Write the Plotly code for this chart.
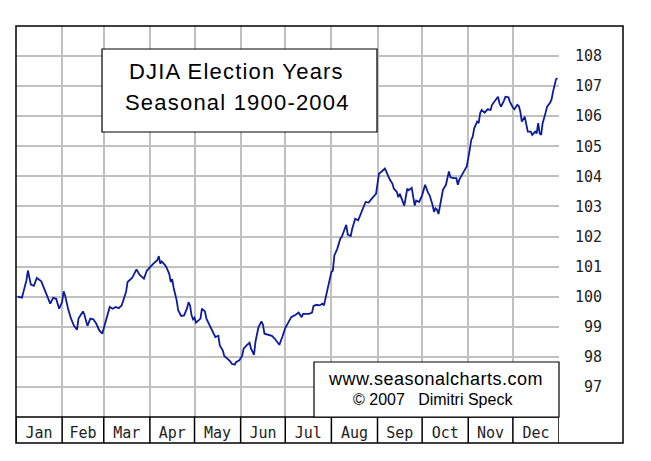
import plotly.graph_objects as go

# day of year (0 = Jan 1) and seasonal index
days = [1, 4, 5, 7, 8, 9, 10, 12, 14, 17, 19, 21, 23, 25, 27, 29, 31, 32, 33, 35,
        37, 39, 41, 42, 45, 46, 48, 50, 52, 54, 56, 58, 59, 61, 63, 65, 67, 69, 71, 74,
        75, 78, 81, 83, 86, 88, 91, 93, 95, 96, 97, 98, 100, 101, 103, 104, 105, 106, 108, 109,
        111, 113, 115, 116, 117, 118, 119, 120, 121, 124, 125, 127, 128, 130, 133, 134, 136, 137, 139, 140,
        142, 144, 145, 147, 148, 150, 152, 153, 155, 157, 158, 160, 161, 163, 165, 166, 167, 170, 172, 174,
        176, 177, 179, 181, 183, 185, 188, 190, 192, 193, 197, 199, 200, 202, 204, 206, 207, 208, 210, 211,
        212, 213, 214, 216, 217, 218, 219, 221, 222, 223, 225, 226, 228, 230, 231, 233, 235, 237, 239, 240,
        242, 243, 244, 246, 248, 249, 251, 253, 254, 256, 257, 258, 259, 261, 263, 264, 266, 267, 268, 269,
        271, 273, 274, 275, 277, 278, 280, 281, 282, 283, 284, 285, 286, 287, 289, 290, 291, 292, 294, 296,
        297, 298, 300, 301, 303, 304, 305, 306, 307, 308, 310, 311, 312, 313, 315, 317, 319, 320, 321, 323,
        324, 325, 326, 328, 329, 331, 332, 334, 335, 337, 338, 339, 340, 342, 343, 344, 346, 347, 349, 350,
        351, 352, 353, 354, 356, 357, 359, 360, 361, 362, 363, 364]
values = [100.00, 99.97, 100.16, 100.54, 100.87, 100.65, 100.40, 100.36, 100.62, 100.51,
          100.27, 99.99, 99.77, 99.96, 99.93, 99.60, 99.82, 100.18, 100.04, 99.60,
          99.27, 99.03, 98.90, 99.27, 99.51, 99.40, 99.03, 99.27, 99.25, 99.10,
          98.88, 98.77, 98.94, 99.32, 99.66, 99.60, 99.66, 99.62, 99.71, 100.16,
          100.49, 100.62, 100.91, 100.73, 100.60, 100.87, 101.04, 101.13, 101.21, 101.35,
          101.10, 101.17, 101.06, 100.99, 100.76, 100.49, 100.58, 100.29, 99.88, 99.55,
          99.36, 99.38, 99.62, 99.82, 99.71, 99.38, 99.25, 99.30, 99.14, 99.27,
          99.60, 99.51, 99.27, 99.05, 98.77, 98.66, 98.70, 98.38, 98.21, 98.03,
          97.94, 97.85, 97.77, 97.74, 97.83, 97.88, 98.03, 98.27, 98.38, 98.47,
          98.27, 98.07, 98.51, 98.99, 99.18, 99.07, 98.77, 98.74, 98.70, 98.60,
          98.44, 98.40, 98.66, 98.96, 99.14, 99.32, 99.40, 99.47, 99.32, 99.43,
          99.43, 99.47, 99.69, 99.73, 99.71, 99.77, 99.71, 99.93, 100.27, 100.54,
          100.82, 100.87, 101.37, 101.60, 101.82, 101.93, 101.99, 102.26, 102.39, 102.06,
          102.02, 102.26, 102.59, 102.54, 102.65, 102.93, 103.15, 103.13, 103.28, 103.31,
          103.42, 103.70, 104.09, 104.17, 104.26, 104.15, 103.92, 103.76, 103.59, 103.48,
          103.31, 103.42, 103.31, 103.03, 103.59, 103.54, 103.62, 103.37, 103.03, 103.20,
          103.15, 103.37, 103.59, 103.72, 103.45, 103.38, 103.05, 102.82, 102.94, 102.89,
          102.75, 103.05, 103.39, 103.55, 103.72, 103.94, 104.16, 103.97, 103.94, 103.94,
          103.72, 103.89, 104.11, 104.16, 104.33, 104.55, 104.88, 105.21, 105.32, 105.60,
          105.82, 105.77, 106.10, 106.21, 106.12, 106.23, 106.21, 106.38, 106.45, 106.60,
          106.65, 106.43, 106.32, 106.52, 106.65, 106.63, 106.48, 106.29, 106.23, 106.38,
          106.34, 106.15, 105.82, 105.98, 105.71, 105.49, 105.49, 105.38, 105.49, 105.43,
          105.77, 105.43, 105.38, 105.77, 106.12, 106.32, 106.45, 106.56, 106.82, 107.09,
          107.23, 107.26]

months = ["Jan", "Feb", "Mar", "Apr", "May", "Jun", "Jul", "Aug", "Sep", "Oct", "Nov", "Dec"]
month_starts = [0, 31, 59, 90, 120, 151, 181, 212, 243, 273, 304, 334, 365]
y_ticks = [97, 98, 99, 100, 101, 102, 103, 104, 105, 106, 107, 108]

title_lines = ["DJIA Election Years", "Seasonal 1900-2004"]
credit_lines = ["www.seasonalcharts.com", "©\u00a02007\u00a0\u00a0\u00a0Dimitri\u00a0Speck"]

month_mid = [(a + b) / 2 for a, b in zip(month_starts[:-1], month_starts[1:])]
y_text = [str(v).rjust(3).replace(" ", "\u00a0") for v in y_ticks]

mono = "DejaVu Sans Mono"
sans = "Liberation Sans, Arial"


def spaced(txt, px):
    return '<span style="letter-spacing:%spx">%s</span>' % (px, txt)


fig = go.Figure()
fig.add_trace(go.Scatter(x=days, y=values, mode="lines",
                         line=dict(color="#0c1c9c", width=1.8), showlegend=False,
                         hoverinfo="skip"))

band = -26 / 391   # month label strip below the grid
shapes = []
# outer frame
shapes.append(dict(type="rect", xref="paper", yref="paper", x0=0, x1=607 / 543, y0=band, y1=1,
                   line=dict(color="black", width=1.5)))
# strip top line and month dividers
shapes.append(dict(type="line", xref="paper", yref="paper", x0=0, x1=1, y0=0, y1=0,
                   line=dict(color="black", width=1.5)))
for m in month_starts:
    shapes.append(dict(type="line", xref="x", yref="paper", x0=m, x1=m, y0=band, y1=0,
                       line=dict(color="black", width=1.5)))
# title box and credit box
shapes.append(dict(type="rect", xref="paper", yref="paper", x0=0.1584, x1=0.6648, y0=0.7289, y1=0.9412,
                   fillcolor="white", line=dict(color="black", width=1.2), layer="above"))
shapes.append(dict(type="rect", xref="paper", yref="paper", x0=0.5488, x1=1, y0=0, y1=0.1407,
                   fillcolor="white", line=dict(color="black", width=1.2), layer="above"))

annotations = [
    dict(text=spaced(title_lines[0], 1.2), x=0.406, y=0.8824, font=dict(size=22, family=sans, color="black")),
    dict(text=spaced(title_lines[1], 1.2), x=0.408, y=0.8031, font=dict(size=22, family=sans, color="black")),
    dict(text=spaced(credit_lines[0], 0.5), x=0.7726, y=0.0972, font=dict(size=18, family=sans, color="black")),
    dict(text=credit_lines[1], x=0.7671, y=0.0448, font=dict(size=16, family=sans, color="black")),
]
for a in annotations:
    a.update(xref="paper", yref="paper", showarrow=False, xanchor="center", yanchor="middle")

# the page body adds an 8px offset, so margins are reduced by that much
fig.update_layout(
    width=643, height=453,
    margin=dict(l=8, r=92, t=18, b=44),
    paper_bgcolor="white", plot_bgcolor="white",
    shapes=shapes, annotations=annotations,
    xaxis=dict(range=[0, 365], tickvals=month_mid, ticktext=months,
               showgrid=False, zeroline=False,
               ticks="outside", ticklen=2, tickcolor="rgba(0,0,0,0)",
               tickfont=dict(family=mono, size=15, color="#222"),
               minor=dict(tickvals=month_starts, showgrid=True, gridcolor="#c0c0c0",
                          gridwidth=1.5, ticks=""),
               fixedrange=True),
    yaxis=dict(range=[96, 109], side="right", tickvals=y_ticks, ticktext=y_text,
               showgrid=True, gridcolor="#c0c0c0", gridwidth=1.5, zeroline=False,
               ticks="outside", ticklen=12, tickcolor="rgba(0,0,0,0)",
               tickfont=dict(family=mono, size=15, color="#222")),
)

fig.write_html("out.html")
